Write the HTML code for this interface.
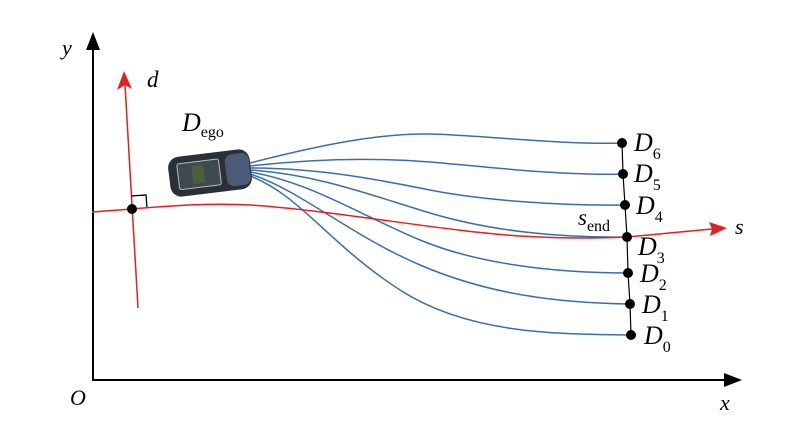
<!DOCTYPE html>
<html><head><style>body{margin:0;background:#fff}svg{display:block}text{font-family:"Liberation Serif",serif;font-style:italic}</style></head><body>
<svg width="796" height="442" viewBox="0 0 796 442" xmlns="http://www.w3.org/2000/svg">
<!-- axes -->
<line x1="93" y1="381" x2="93" y2="48" stroke="#000" stroke-width="2"/>
<path d="M93,32 L86,50 L100,50 Z" fill="#000"/>
<line x1="93" y1="380" x2="728" y2="380" stroke="#000" stroke-width="2"/>
<path d="M742,380 L724,373 L724,387 Z" fill="#000"/>
<text x="62" y="55" font-size="22">y</text>
<text x="70" y="405" font-size="22">O</text>
<text x="720" y="410" font-size="22">x</text>
<!-- d axis -->
<line x1="138" y1="308" x2="125" y2="85" stroke="#e02020" stroke-width="1.5"/>
<path d="M124,71 L117,90 L125,85 L132,89 Z" fill="#e02020"/>
<text x="147" y="87" font-size="23">d</text>
<!-- right angle -->
<path d="M131,196 L146,195 L147,208" fill="none" stroke="#000" stroke-width="1.3"/>
<!-- blue curves -->
<g fill="none" stroke="#3a6ea8" stroke-width="1.5">
<path d="M250,163 C320,145 380,133 430,134 S560,145 622,143"/>
<path d="M250,166 C320,158 380,158 430,162 S560,176 623,174"/>
<path d="M250,168 C320,168 380,180 430,190 S560,206 625,205"/>
<path d="M250,170 C320,175 370,195 430,213 S560,238 627,237"/>
<path d="M250,172 C310,182 360,215 420,240 S560,273 628,273"/>
<path d="M250,174 C300,190 350,235 420,265 S560,303 630,304"/>
<path d="M250,176 C300,195 330,245 400,290 S560,334 631,335"/>
</g>
<!-- red s curve -->
<path d="M92,212 C150,208 200,202 250,205 C330,210 450,232 520,236 C570,239 600,238 627,237 L712,229" fill="none" stroke="#e02020" stroke-width="1.5"/>
<path d="M727,228 L709,222 L712,229 L710,236 Z" fill="#e02020"/>
<text x="735" y="234" font-size="22">s</text>
<!-- end line -->
<polyline points="622,143 623,174 625,205 627,237 628,273 630,304 631,335" fill="none" stroke="#000" stroke-width="1.2"/>
<g fill="#000">
<circle cx="622" cy="143" r="5"/><circle cx="623" cy="174" r="5"/><circle cx="625" cy="205" r="5"/><circle cx="627" cy="237" r="5"/><circle cx="628" cy="273" r="5"/><circle cx="630" cy="304" r="5"/><circle cx="631" cy="335" r="5"/>
<circle cx="132" cy="209" r="5"/>
</g>
<g font-size="26">
<text x="634" y="151">D<tspan font-size="16" font-style="normal" dy="8">6</tspan></text>
<text x="634" y="182">D<tspan font-size="16" font-style="normal" dy="8">5</tspan></text>
<text x="636" y="214">D<tspan font-size="16" font-style="normal" dy="8">4</tspan></text>
<text x="638" y="255">D<tspan font-size="16" font-style="normal" dy="8">3</tspan></text>
<text x="640" y="282">D<tspan font-size="16" font-style="normal" dy="8">2</tspan></text>
<text x="642" y="313">D<tspan font-size="16" font-style="normal" dy="8">1</tspan></text>
<text x="644" y="344">D<tspan font-size="16" font-style="normal" dy="8">0</tspan></text>
<text x="182" y="131">D<tspan font-size="16" font-style="normal" dy="6">ego</tspan></text>
</g>
<text x="578" y="225" font-size="23">s<tspan font-size="16" font-style="normal" dy="6">end</tspan></text>
<!-- car -->
<g transform="translate(210,173) rotate(-7)">
<rect x="-41" y="-20" width="82" height="40" rx="11" fill="#2b3038"/>
<rect x="16" y="-16" width="24" height="32" rx="7" fill="#4a5a78"/>
<rect x="-32" y="-13" width="42" height="26" rx="2" fill="#3e4a50" stroke="#b8bcc0" stroke-width="1"/>
<rect x="-18" y="-9" width="12" height="18" fill="#4c5e3c"/>
</g>
</svg>
</body></html>
